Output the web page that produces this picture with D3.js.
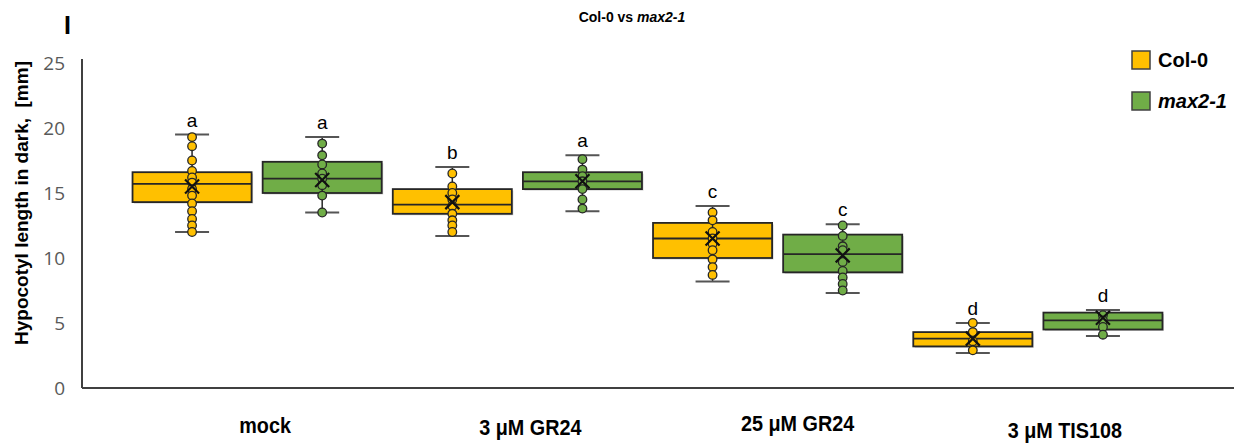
<!DOCTYPE html>
<html>
<head>
<meta charset="utf-8">
<style>
  body { margin: 0; background: #fff; }
  svg text { font-family: "Liberation Sans", Arial, sans-serif; }
  .tick-label { font-family: "Open Sans", sans-serif; font-size: 19px; fill: #595959; }
  .group-label { font-family: "Liberation Sans Narrow", "Arial Narrow", "Liberation Sans", sans-serif; font-weight: bold; font-size: 22px; fill: #000; }
  .letter { font-size: 19px; fill: #000; text-anchor: middle; }
</style>
</head>
<body>
<div id="chart"></div>
<script src="https://cdn.jsdelivr.net/npm/d3@7"></script>
<script>
// categories
var groups = ["mock", "3 μM GR24", "25 μM GR24", "3 μM TIS108"];
var lines = ["Col-0", "max2-1"];
var yTicks = [0, 5, 10, 15, 20, 25];

// Col-0 box stats (per group)
var col0Min  = [12.0, 11.7, 8.2, 2.7];
var col0Q1   = [14.3, 13.4, 10.0, 3.2];
var col0Med  = [15.7, 14.1, 11.5, 3.8];
var col0Q3   = [16.6, 15.3, 12.7, 4.3];
var col0Max  = [19.5, 17.0, 14.0, 5.0];
var col0Mean = [15.5, 14.3, 11.5, 3.8];
var col0Letters = ["a", "b", "c", "d"];
var col0Points = [
  [19.3, 18.6, 17.5, 16.7, 16.2, 15.8, 15.3, 14.8, 14.2, 13.6, 13.0, 12.5, 12.0],
  [16.5, 15.5, 15.0, 14.5, 14.0, 13.4, 12.9, 12.5, 12.0],
  [13.5, 12.9, 12.0, 11.5, 11.1, 10.6, 9.9, 9.3, 8.7],
  [5.0, 4.3, 3.6, 2.9]
];

// max2-1 box stats (per group)
var max2Min  = [13.5, 13.6, 7.3, 4.0];
var max2Q1   = [15.0, 15.3, 8.9, 4.5];
var max2Med  = [16.1, 15.9, 10.3, 5.2];
var max2Q3   = [17.4, 16.6, 11.8, 5.8];
var max2Max  = [19.3, 17.9, 12.6, 6.0];
var max2Mean = [16.0, 15.9, 10.2, 5.4];
var max2Letters = ["a", "a", "c", "d"];
var max2Points = [
  [18.8, 17.9, 17.2, 16.5, 16.1, 15.6, 14.8, 13.5],
  [17.6, 16.8, 16.3, 15.9, 15.3, 14.5, 13.8],
  [12.5, 11.7, 10.9, 10.6, 9.7, 9.0, 8.5, 8.0, 7.5],
  [5.6, 5.2, 4.7, 4.1]
];

var colors = { "Col-0": "#FFC000", "max2-1": "#70AD47" };

var width = 1234, height = 443;
var svg = d3.select("#chart").append("svg")
  .attr("width", width)
  .attr("height", height);

var x = d3.scaleBand().domain(groups).range([127, 1168]);
var xSub = d3.scaleBand().domain(lines).range([0, x.bandwidth()]);
var y = d3.scaleLinear().domain([0, 25]).range([388, 63]);

// build table for the library
var series = [
  { name: "Col-0", min: col0Min, q1: col0Q1, med: col0Med, q3: col0Q3, max: col0Max, mean: col0Mean, letters: col0Letters, points: col0Points },
  { name: "max2-1", min: max2Min, q1: max2Q1, med: max2Med, q3: max2Q3, max: max2Max, mean: max2Mean, letters: max2Letters, points: max2Points }
];
var boxes = [];
series.forEach(function(s) {
  groups.forEach(function(g, i) {
    boxes.push({ line: s.name, group: g, min: s.min[i], q1: s.q1[i], med: s.med[i], q3: s.q3[i],
      max: s.max[i], mean: s.mean[i], letter: s.letters[i], points: s.points[i] });
  });
});

// panel label and title
svg.append("text").attr("x", 64).attr("y", 34)
  .style("font-size", "25px").style("font-weight", "bold").text("I");
var title = svg.append("text").attr("x", 632).attr("y", 22)
  .attr("text-anchor", "middle").style("font-size", "14px").style("font-weight", "bold");
title.append("tspan").text("Col-0 vs ");
title.append("tspan").style("font-style", "italic").text("max2-1");

// y axis
var yAxis = d3.axisLeft(y).tickValues(yTicks).tickSize(0).tickPadding(17);
var ya = svg.append("g").attr("transform", "translate(82,0)").call(yAxis);
ya.select(".domain").remove();
ya.selectAll("text").attr("class", "tick-label").attr("dy", "0.35em");
svg.append("line").attr("x1", 82).attr("x2", 82).attr("y1", y(25) - 4).attr("y2", y(0))
  .attr("stroke", "#404040").attr("stroke-width", 2);

svg.append("text")
  .attr("transform", "translate(28,203) rotate(-90)")
  .attr("text-anchor", "middle")
  .style("font-size", "19px").style("font-weight", "bold").style("white-space", "pre")
  .text("Hypocotyl length in dark,  [mm]");

// x axis
svg.append("line").attr("x1", 82).attr("x2", width).attr("y1", y(0)).attr("y2", y(0))
  .attr("stroke", "#404040").attr("stroke-width", 2);
var labelShift = [8, 13, 20, 27];
var labelDrop = [433, 435, 431, 438];
svg.selectAll(".group-label").data(groups).enter().append("text")
  .attr("class", "group-label")
  .attr("transform", function(d, i) {
    return "translate(" + (x(d) + x.bandwidth() / 2 + labelShift[i]) + "," + labelDrop[i] + ") scale(0.9,1)";
  })
  .attr("text-anchor", "middle")
  .text(function(d) { return d; });

// boxes
var boxW = xSub.bandwidth() * 0.915;
var capW = 34;
var cx = function(d) { return x(d.group) + xSub(d.line) + xSub.bandwidth() / 2; };

var bg = svg.selectAll(".box").data(boxes).enter().append("g").attr("class", "box");

// shadow
bg.append("rect")
  .attr("x", function(d) { return cx(d) - boxW / 2 + 1.5; })
  .attr("y", function(d) { return y(d.q3) + 1.5; })
  .attr("width", boxW).attr("height", function(d) { return y(d.q1) - y(d.q3); })
  .attr("fill", "#000").attr("opacity", 0.18);
bg.append("rect")
  .attr("x", function(d) { return cx(d) - boxW / 2; })
  .attr("y", function(d) { return y(d.q3); })
  .attr("width", boxW).attr("height", function(d) { return y(d.q1) - y(d.q3); })
  .attr("fill", function(d) { return colors[d.line]; })
  .attr("stroke", "#262626").attr("stroke-width", 1.8);
bg.append("line")
  .attr("x1", function(d) { return cx(d) - boxW / 2; })
  .attr("x2", function(d) { return cx(d) + boxW / 2; })
  .attr("y1", function(d) { return y(d.med); }).attr("y2", function(d) { return y(d.med); })
  .attr("stroke", "#262626").attr("stroke-width", 1.8);
// whisker stem
bg.append("line")
  .attr("x1", cx).attr("x2", cx)
  .attr("y1", function(d) { return y(d.max); }).attr("y2", function(d) { return y(d.min); })
  .attr("stroke", "#262626").attr("stroke-width", 1.5);
// caps
["max", "min"].forEach(function(k) {
  bg.append("line")
    .attr("x1", function(d) { return cx(d) - capW / 2; })
    .attr("x2", function(d) { return cx(d) + capW / 2; })
    .attr("y1", function(d) { return y(d[k]); }).attr("y2", function(d) { return y(d[k]); })
    .attr("stroke", "#555").attr("stroke-width", 2);
});
// points
bg.each(function(d) {
  d3.select(this).selectAll("circle").data(d.points).enter().append("circle")
    .attr("cx", cx(d)).attr("cy", function(v) { return y(v); }).attr("r", 4.3)
    .attr("fill", colors[d.line]).attr("stroke", "#262626").attr("stroke-width", 1.3);
});
// mean marker
bg.append("path")
  .attr("d", function(d) {
    var px = cx(d), py = y(d.mean), s = 7;
    return "M" + (px - s) + "," + (py - s) + "L" + (px + s) + "," + (py + s) +
      "M" + (px + s) + "," + (py - s) + "L" + (px - s) + "," + (py + s);
  })
  .attr("stroke", "#111").attr("stroke-width", 2.2);
// letters
bg.append("text").attr("class", "letter")
  .attr("x", cx).attr("y", function(d) { return y(d.max) - 8; })
  .text(function(d) { return d.letter; });

// legend
var legend = svg.selectAll(".legend").data(lines).enter().append("g")
  .attr("transform", function(d, i) { return "translate(1132," + (51 + i * 41) + ")"; });
legend.append("rect").attr("width", 18).attr("height", 18)
  .attr("fill", function(d) { return colors[d]; })
  .attr("stroke", "#404040").attr("stroke-width", 1.5);
legend.append("text").attr("x", 26).attr("y", 16)
  .style("font-size", "20px").style("font-weight", "bold")
  .style("font-style", function(d) { return d === "max2-1" ? "italic" : "normal"; })
  .text(function(d) { return d; });
</script>
</body>
</html>
